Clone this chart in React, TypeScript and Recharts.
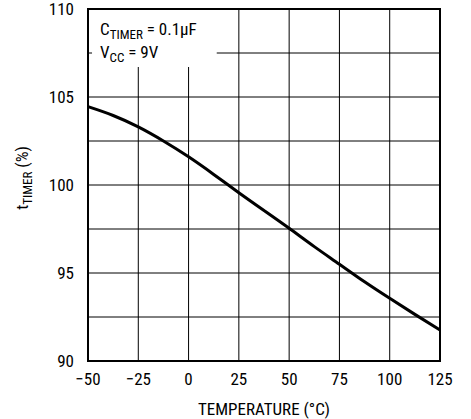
import React from 'react';
import { LineChart, Line, XAxis, YAxis, CartesianGrid, ReferenceArea, Label } from 'recharts';

const temperatures = [-50, -37.5, -25, -12.5, 0, 12.5, 25, 37.5, 50, 62.5, 75, 87.5, 100, 112.5, 125];
const timerPct = [104.45, 103.95, 103.3, 102.5, 101.6, 100.6, 99.56, 98.55, 97.54, 96.5, 95.5, 94.5, 93.56, 92.65, 91.76];
const xTicks = [-50, -25, 0, 25, 50, 75, 100, 125];
const yTicks = [90, 95, 100, 105, 110];
const yGrid = [90, 92.5, 95, 97.5, 100, 102.5, 105, 107.5, 110];

const data = temperatures.map((t, i) => ({ t, v: timerPct[i] }));

const FONT = '"Liberation Sans Narrow", "Roboto Condensed", "Arial Narrow", "Liberation Sans", sans-serif';
const FS = 17;

const fmtX = (v: number) => (v < 0 ? '\u2212' + Math.abs(v) : String(v));

const NoteContent = (props: any) => {
  const vb = props.viewBox || {};
  const x = (vb.x ?? 0) + 8;
  const y = vb.y ?? 0;
  return (
    <g fontFamily={FONT} fill="#000">
      <text x={x} y={y + 26} fontSize={FS}>
        C<tspan fontSize={13} dy={4}>TIMER</tspan><tspan dy={-4}> = 0.1µF</tspan>
      </text>
      <text x={x} y={y + 49} fontSize={FS}>
        V<tspan fontSize={13} dy={4}>CC</tspan><tspan dy={-4}> = 9V</tspan>
      </text>
    </g>
  );
};

const YLabel = () => {
  const cx = 28;
  const cy = 178;
  return (
    <text x={cx} y={cy} transform={`rotate(-90 ${cx} ${cy})`} textAnchor="middle" fontFamily={FONT} fontSize={FS} fill="#000">
      t<tspan fontSize={13} dy={4}>TIMER</tspan><tspan dy={-4}> (%)</tspan>
    </text>
  );
};

export default function App() {
  return (
    <div style={{ position: 'absolute', left: 0, top: 0, background: '#fff' }}>
      <LineChart width={471} height={419} data={data} margin={{ top: 9, right: 31, bottom: 28, left: 28 }}>
        <CartesianGrid
          stroke="#000"
          strokeWidth={1}
          horizontalValues={yGrid}
          verticalValues={xTicks}
        />
        <XAxis
          dataKey="t"
          type="number"
          domain={[-50, 125]}
          ticks={xTicks}
          tickFormatter={fmtX}
          axisLine={false}
          tickLine={false}
          height={30}
          tick={{ fill: '#000', fontSize: FS, fontFamily: FONT }}
          tickMargin={6}
          interval={0}
        >
          <Label value="TEMPERATURE (°C)" position="insideBottom" offset={-24} style={{ fill: '#000', fontSize: FS, fontFamily: FONT }} />
        </XAxis>
        <YAxis
          type="number"
          domain={[90, 110]}
          ticks={yTicks}
          axisLine={false}
          tickLine={false}
          width={60}
          tick={{ fill: '#000', fontSize: FS, fontFamily: FONT }}
          tickMargin={8}
          interval={0}
        >
          <Label content={<YLabel />} />
        </YAxis>
        <ReferenceArea x1={-48} x2={14} y1={106.7} y2={110} fill="#fff" fillOpacity={1} stroke="none" ifOverflow="visible">
          <Label content={<NoteContent />} />
        </ReferenceArea>
        <ReferenceArea x1={-50} x2={125} y1={90} y2={110} fill="none" stroke="#000" strokeWidth={2} ifOverflow="visible" />
        <Line type="natural" dataKey="v" stroke="#000" strokeWidth={3} dot={false} isAnimationActive={false} />
      </LineChart>
    </div>
  );
}
